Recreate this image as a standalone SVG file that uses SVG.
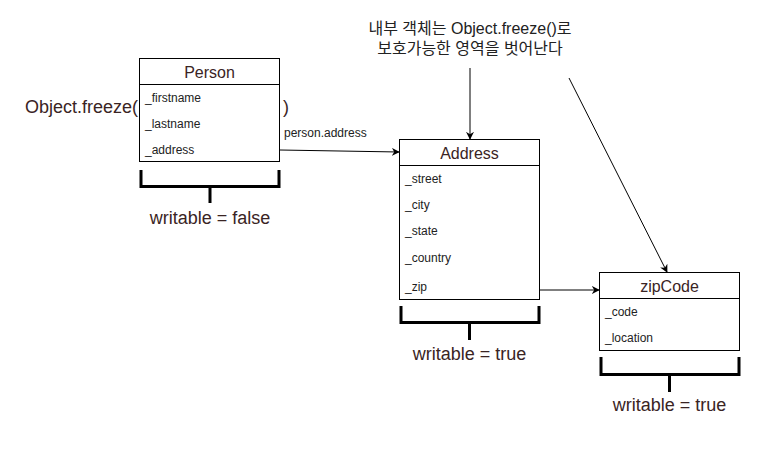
<svg xmlns="http://www.w3.org/2000/svg" width="761" height="465" viewBox="0 0 761 465">
<style>
.box{fill:#fff;stroke:#000;stroke-width:1}
.sep{stroke:#000;stroke-width:1}
.title{font-family:"Liberation Sans",Arial,sans-serif;font-size:16px;fill:#3a2424;text-anchor:middle;dominant-baseline:central}
.row{font-family:"Liberation Sans",Arial,sans-serif;font-size:12px;fill:#222;dominant-baseline:central}
.big{font-family:"Liberation Sans",Arial,sans-serif;font-size:18px;fill:#3a2424;dominant-baseline:central}
.note{font-family:"Liberation Sans","Noto Sans CJK KR",sans-serif;font-size:16px;fill:#222;text-anchor:middle;dominant-baseline:central}
.br{fill:none;stroke:#000;stroke-width:3}
.conn{fill:none;stroke:#000;stroke-width:1}
</style>
<defs>
<marker id="arr" viewBox="0 0 10 10" refX="9" refY="5" markerWidth="8" markerHeight="8" markerUnits="userSpaceOnUse" orient="auto">
<path d="M0,0 L10,5 L0,10 L3,5 z" fill="#000"/>
</marker>
</defs>
<rect width="761" height="465" fill="#fff"/>

<g id="freeze-label">
<text class="big" x="25" y="107">Object.freeze(</text>
<text class="big" x="283" y="107">)</text>
</g>

<g id="note">
<text class="note" x="470" y="28">내부 객체는 Object.freeze()로</text>
<text class="note" x="470" y="48">보호가능한 영역을 벗어난다</text>
</g>

<g id="person">
<rect class="box" x="139.5" y="58.5" width="140" height="103"/>
<line class="sep" x1="139.5" y1="84.5" x2="279.5" y2="84.5"/>
<text class="title" x="209.5" y="72">Person</text>
<text class="row" x="145" y="98">_firstname</text>
<text class="row" x="145" y="124">_lastname</text>
<text class="row" x="145" y="150">_address</text>
</g>

<g id="address">
<rect class="box" x="399.5" y="139.5" width="140" height="160"/>
<line class="sep" x1="399.5" y1="165.5" x2="539.5" y2="165.5"/>
<text class="title" x="469.5" y="153">Address</text>
<text class="row" x="405" y="179">_street</text>
<text class="row" x="405" y="205">_city</text>
<text class="row" x="405" y="231">_state</text>
<text class="row" x="405" y="258">_country</text>
<text class="row" x="405" y="287">_zip</text>
</g>

<g id="zipcode">
<rect class="box" x="599.5" y="272.5" width="140" height="78"/>
<line class="sep" x1="599.5" y1="298.5" x2="739.5" y2="298.5"/>
<text class="title" x="669.5" y="286">zipCode</text>
<text class="row" x="605" y="312">_code</text>
<text class="row" x="605" y="338">_location</text>
</g>

<g id="person-bracket">
<path class="br" d="M141,170 V186.5 H279 V170 M210,186.5 V203"/>
<text class="big" x="210" y="218" text-anchor="middle">writable = false</text>
</g>

<g id="address-bracket">
<path class="br" d="M401,306 V322.5 H539 V306 M469.5,322.5 V340"/>
<text class="big" x="469.5" y="354" text-anchor="middle">writable = true</text>
</g>

<g id="zipcode-bracket">
<path class="br" d="M601,357 V374.5 H739 V357 M669.5,374.5 V392"/>
<text class="big" x="669.5" y="405" text-anchor="middle">writable = true</text>
</g>

<g id="connectors">
<line class="conn" x1="280" y1="150" x2="399" y2="152" marker-end="url(#arr)"/>
<text class="row" x="284" y="133" font-size="12">person.address</text>
<line class="conn" x1="470" y1="68" x2="470" y2="139" marker-end="url(#arr)"/>
<line class="conn" x1="569" y1="78" x2="667" y2="272" marker-end="url(#arr)"/>
<line class="conn" x1="540" y1="290" x2="599" y2="290" marker-end="url(#arr)"/>
</g>
</svg>
